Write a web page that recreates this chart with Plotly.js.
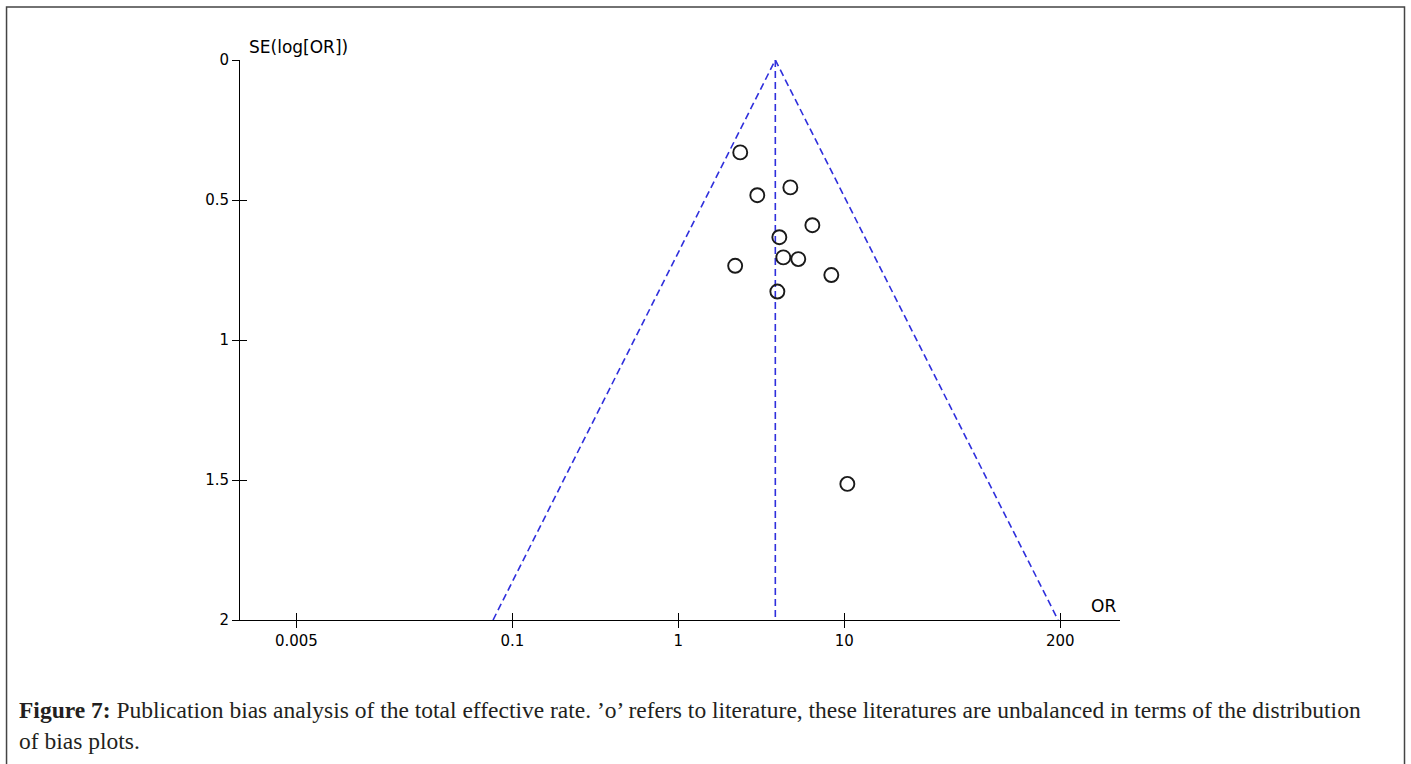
<!DOCTYPE html>
<html>
<head>
<meta charset="utf-8">
<script src="https://cdn.plot.ly/plotly-3.0.1.min.js"></script>
<style>
html,body{margin:0;padding:0;background:#fff;}
#chart{width:1411px;height:764px;}
</style>
</head>
<body>
<div id="chart"></div>
<script>
// Study points
const studyOR = [2.36, 4.73, 2.99, 6.42, 4.06, 4.29, 5.28, 2.20, 8.35, 3.95, 10.43];
const studySE = [0.33, 0.455, 0.483, 0.59, 0.633, 0.705, 0.711, 0.735, 0.768, 0.827, 1.514];

// Funnel (pseudo 95% CI) and pooled estimate
const funnelOR = [0.0765, 3.84, 194];
const funnelSE = [2, 0, 2];
const pooledOR = [3.84, 3.84];
const pooledSE = [0, 2];

// Axis ticks
const xTickVals = [0.005, 0.1, 1, 10, 200];
const xTickText = ['0.005', '0.1', '1', '10', '200'];
const yTickVals = [0, 0.5, 1, 1.5, 2];
const yTickText = ['0', '0.5', '1', '1.5', '2'];

const xRange = [-2.641, 2.661];
const yRange = [2, 0];

const axFont = {family: 'DejaVu Sans, sans-serif', size: 15, color: '#000'};
const titleFont = {family: 'DejaVu Sans, sans-serif', size: 17, color: '#000'};
const blue = '#2f2fdc';

const traces = [
  {x: funnelOR, y: funnelSE, mode: 'lines', type: 'scatter',
   line: {color: blue, width: 1.6, dash: '7px,4px'}, hoverinfo: 'skip', showlegend: false},
  {x: pooledOR, y: pooledSE, mode: 'lines', type: 'scatter',
   line: {color: blue, width: 1.6, dash: '7px,4px'}, hoverinfo: 'skip', showlegend: false},
  {x: studyOR, y: studySE, mode: 'markers', type: 'scatter',
   marker: {symbol: 'circle-open', size: 14, color: '#1a1a1a', line: {width: 1.9, color: '#1a1a1a'}},
   showlegend: false},
  {x: [], y: [], xaxis: 'x2', yaxis: 'y2', type: 'scatter', mode: 'markers', showlegend: false}
];

const layout = {
  width: 1411, height: 764,
  margin: {l: 240, r: 291, t: 60, b: 144, pad: 0},
  paper_bgcolor: '#fff', plot_bgcolor: '#fff',
  showlegend: false,
  xaxis: {
    type: 'log', range: xRange, tickmode: 'array', tickvals: xTickVals, ticktext: xTickText,
    showgrid: false, zeroline: false, showline: true, linecolor: '#000', linewidth: 1,
    ticks: 'outside', ticklen: 7, tickwidth: 1, tickcolor: '#000', tickfont: axFont
  },
  yaxis: {
    range: yRange, tickmode: 'array', tickvals: yTickVals, ticktext: yTickText,
    showgrid: false, zeroline: false, showline: true, linecolor: '#000', linewidth: 1,
    ticks: 'outside', ticklen: 7, tickwidth: 1, tickcolor: '#000', tickfont: axFont
  },
  xaxis2: {
    type: 'log', range: xRange, overlaying: 'x', anchor: 'y2', side: 'bottom',
    tickmode: 'array', tickvals: xTickVals, showticklabels: false,
    showgrid: false, zeroline: false, showline: false,
    ticks: 'inside', ticklen: 7, tickwidth: 1, tickcolor: '#000'
  },
  yaxis2: {
    range: yRange, overlaying: 'y', anchor: 'x2', side: 'left',
    tickmode: 'array', tickvals: yTickVals, showticklabels: false,
    showgrid: false, zeroline: false, showline: false,
    ticks: 'inside', ticklen: 7, tickwidth: 1, tickcolor: '#000'
  },
  shapes: [
    {type: 'rect', xref: 'paper', yref: 'paper', x0: -0.2653, x1: 1.3233, y0: -0.30, y1: 1.0946,
     line: {color: '#444', width: 1.5}, fillcolor: 'rgba(0,0,0,0)', layer: 'below'}
  ],
  annotations: [
    {text: 'SE(log[OR])', xref: 'paper', yref: 'paper', x: 0.008, y: 1.023,
     xanchor: 'left', yanchor: 'middle', showarrow: false, font: titleFont},
    {text: 'OR', xref: 'paper', yref: 'paper', x: 0.9977, y: 0.025,
     xanchor: 'right', yanchor: 'middle', showarrow: false, font: titleFont},
    {text: '<b>Figure 7:</b> Publication bias analysis of the total effective rate. ’o’ refers to literature, these literatures are unbalanced in terms of the distribution<br>of bias plots.',
     xref: 'paper', yref: 'paper', x: -0.2534, y: -0.189, xanchor: 'left', yanchor: 'middle',
     align: 'left', showarrow: false,
     font: {family: 'Liberation Serif, serif', size: 23.5, color: '#231f20'}}
  ]
};

Plotly.newPlot('chart', traces, layout, {displayModeBar: false, staticPlot: true});
</script>
</body>
</html>
